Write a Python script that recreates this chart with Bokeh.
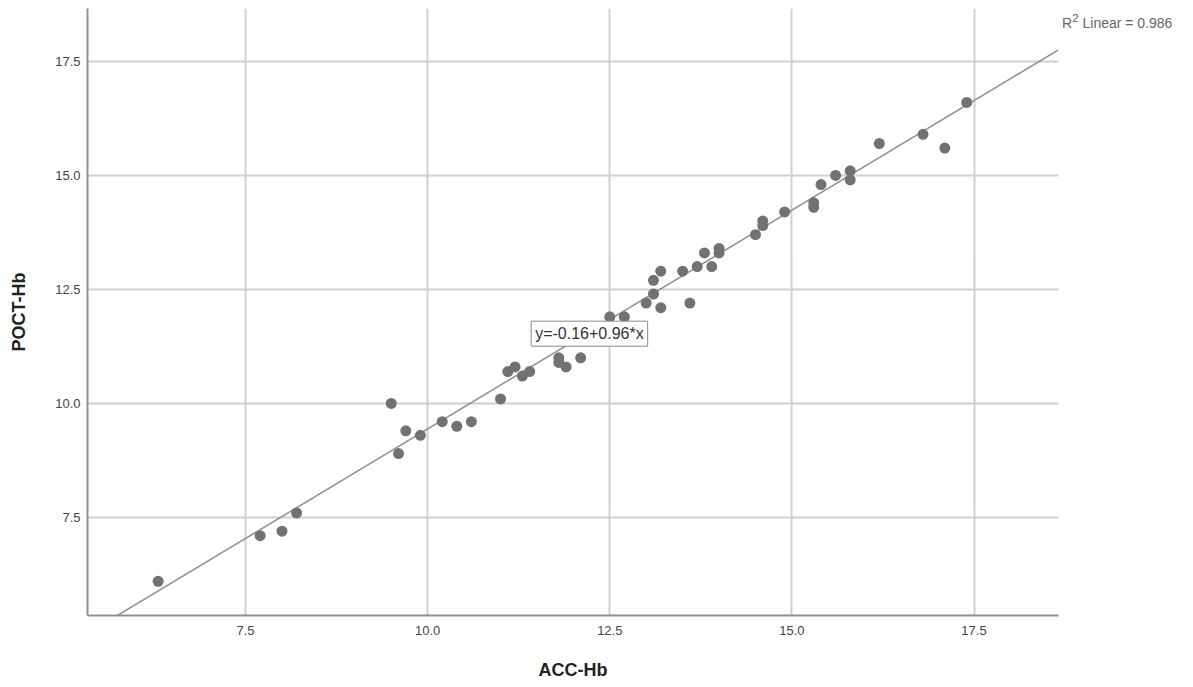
import numpy as np
from bokeh.plotting import figure
from bokeh.models import Label, Range1d, FixedTicker, ColumnDataSource, NumeralTickFormatter, Div
from bokeh.layouts import row
from bokeh.embed import file_html
from bokeh.resources import INLINE

# ---- data ----
acc_hb = [6.3, 7.7, 8.0, 8.2, 9.5, 9.6, 9.7, 9.9, 10.2, 10.4, 10.6, 11.0, 11.1, 11.2,
          11.3, 11.4, 11.8, 11.8, 11.9, 12.1, 12.5, 12.7, 13.0, 13.1, 13.1, 13.2, 13.2,
          13.5, 13.6, 13.7, 13.8, 13.9, 14.0, 14.0, 14.5, 14.6, 14.6, 14.9, 15.3, 15.3,
          15.4, 15.6, 15.8, 15.8, 16.2, 16.8, 17.1, 17.4]
poct_hb = [6.1, 7.1, 7.2, 7.6, 10.0, 8.9, 9.4, 9.3, 9.6, 9.5, 9.6, 10.1, 10.7, 10.8,
           10.6, 10.7, 11.0, 10.9, 10.8, 11.0, 11.9, 11.9, 12.2, 12.4, 12.7, 12.9, 12.1,
           12.9, 12.2, 13.0, 13.3, 13.0, 13.4, 13.3, 13.7, 14.0, 13.9, 14.2, 14.4, 14.3,
           14.8, 15.0, 15.1, 14.9, 15.7, 15.9, 15.6, 16.6]
tick_values = [7.5, 10.0, 12.5, 15.0, 17.5]
fit_intercept = -0.16
fit_slope = 0.96
r2_value = "0.986"
eq_text = "y=-0.16+0.96*x"
x_title = "ACC-Hb"
y_title = "POCT-Hb"

FONT = "Liberation Sans"
lo, hi = 5.33, 18.66

p = figure(width=1062, height=683, output_backend="svg", toolbar_location=None,
           x_range=Range1d(lo, hi), y_range=Range1d(5.35, 18.66),
           min_border_left=87, min_border_right=4, min_border_top=8,
           min_border_bottom=68, background_fill_color="white",
           border_fill_color="white")
p.outline_line_color = None

for ax in (p.xaxis[0], p.yaxis[0]):
    ax.ticker = FixedTicker(ticks=tick_values)
    ax.formatter = NumeralTickFormatter(format="0.0")
    ax.axis_line_color = "#8f8f8f"
    ax.axis_line_width = 2
    ax.major_tick_line_color = None
    ax.minor_tick_line_color = None
    ax.major_tick_out = 0
    ax.major_tick_in = 0
    ax.major_label_text_font = FONT
    ax.major_label_text_font_size = "13px"
    ax.major_label_text_color = "#444444"
    ax.axis_label_text_font = FONT
    ax.axis_label_text_font_size = "18px"
    ax.axis_label_text_font_style = "bold"
    ax.axis_label_text_color = "#222222"

p.xaxis.axis_label = x_title
p.yaxis.axis_label = y_title
p.xaxis.major_label_standoff = 10
p.xaxis.axis_label_standoff = 22
p.yaxis.major_label_standoff = 7
p.yaxis.axis_label_standoff = 23

for g in (p.xgrid[0], p.ygrid[0]):
    g.ticker = FixedTicker(ticks=tick_values)
    g.grid_line_color = "#d0d0d0"
    g.grid_line_width = 2

# regression line from fit coefficients across the x range
lx = np.array([lo, hi])
ly = fit_intercept + fit_slope * lx
p.line(lx, ly, line_color="#8e8e8e", line_width=1.5)

src = ColumnDataSource(dict(x=acc_hb, y=poct_hb))
p.scatter("x", "y", source=src, size=11, fill_color="#727272", line_color=None)

eq = Label(x=12.22, y=11.53, text=eq_text, text_align="center", text_baseline="middle",
           text_font=FONT, text_font_size="16px", text_color="#333333",
           background_fill_color="white", border_line_color="#8a8a8a",
           border_line_width=1, padding=4)
p.add_layout(eq)

r2 = Div(text=f"R<sup>2</sup> Linear = {r2_value}", width=128, height=30,
         margin=(0, 0, 0, 0),
         styles={"font-family": FONT, "font-size": "14px", "color": "#666666",
                 "padding-top": "10px", "white-space": "nowrap"})

layout = row(p, r2, spacing=0)
open("out.html", "w").write(file_html(layout, INLINE))
